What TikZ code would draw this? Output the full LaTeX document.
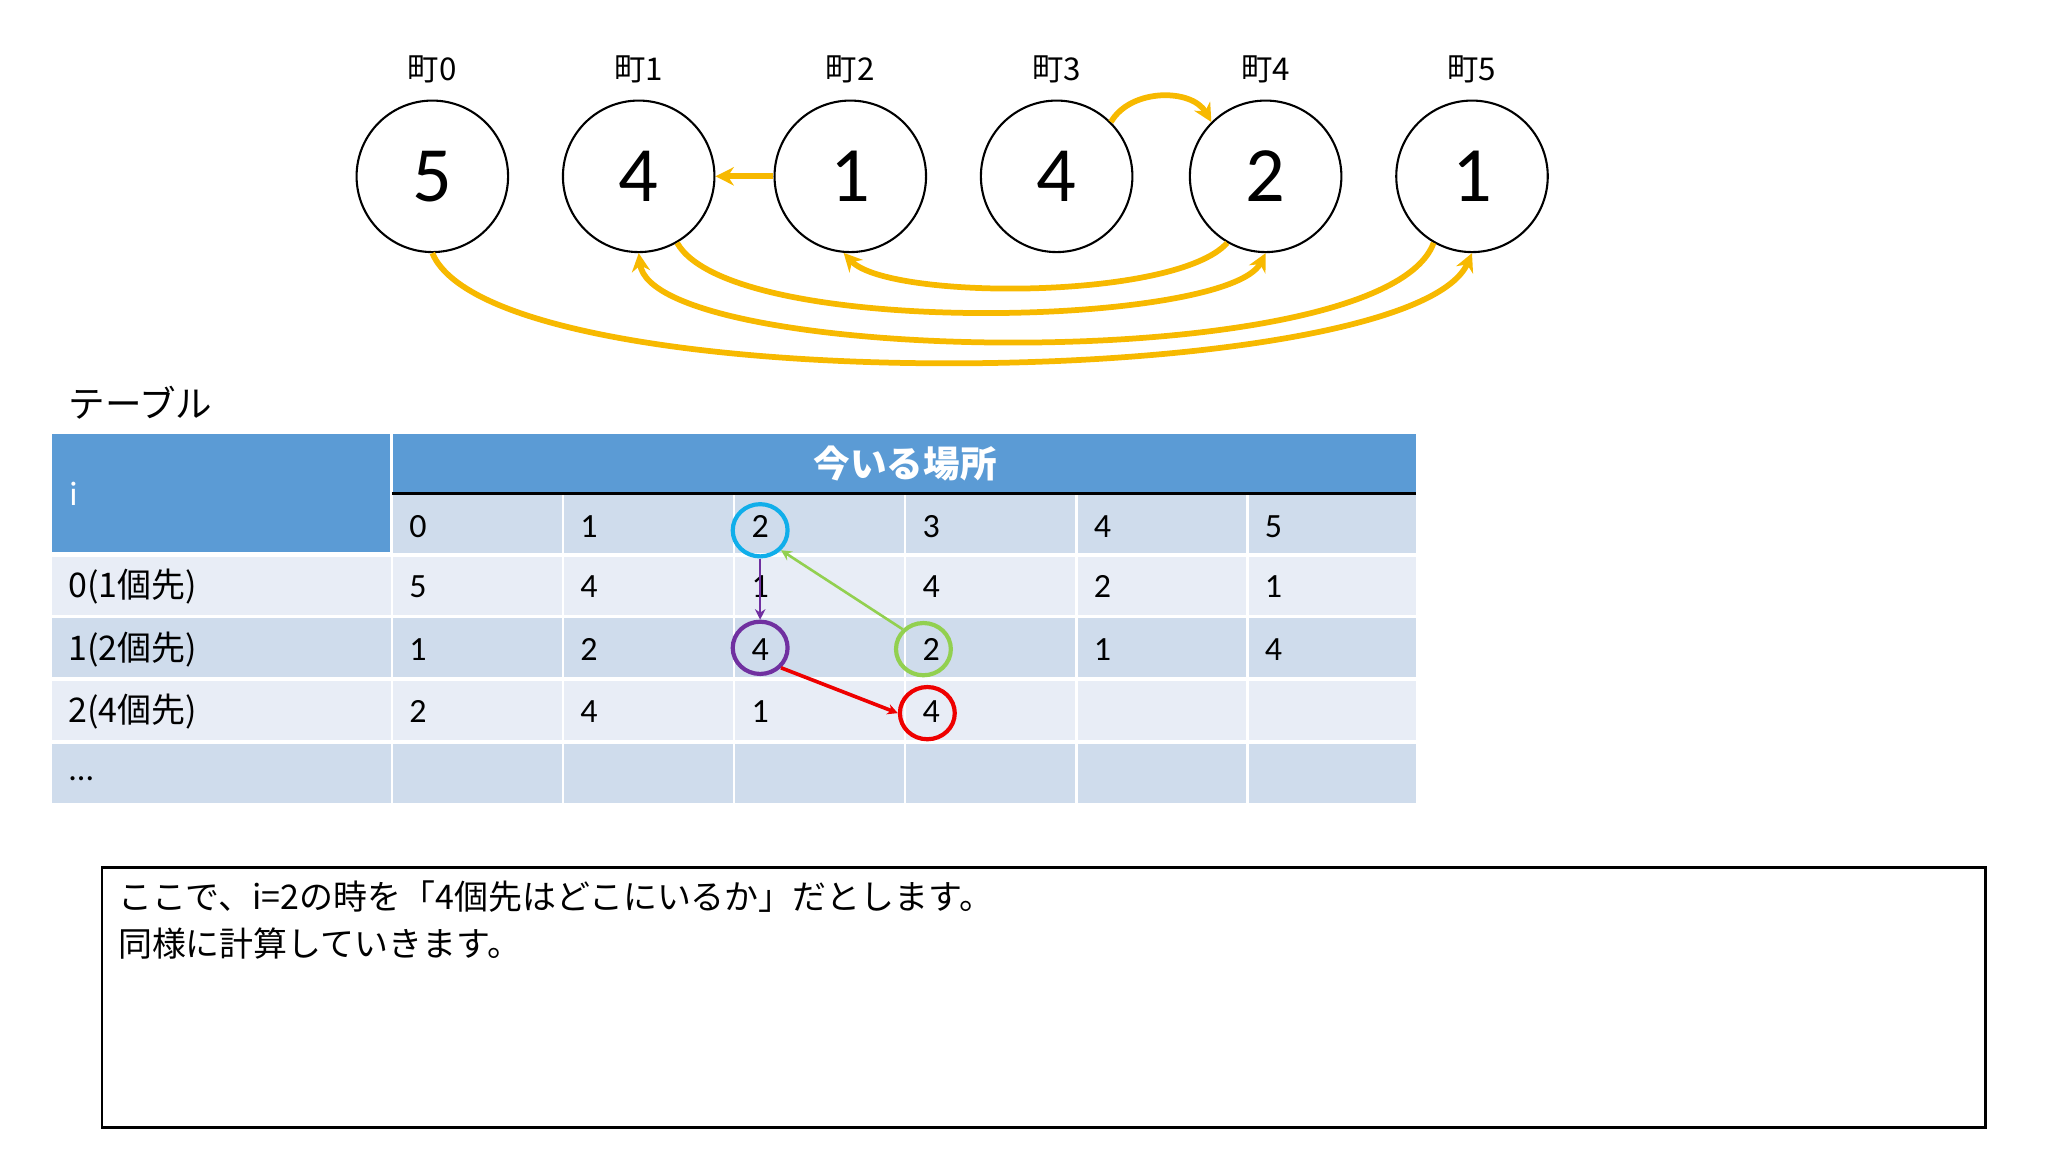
\documentclass[tikz,border=0pt]{standalone}
\usepackage{fontspec}
\setmainfont{Carlito}
\newfontfamily\jp{Noto Sans CJK JP}
\usetikzlibrary{arrows.meta,shapes.geometric}
\definecolor{gold}{HTML}{F7B900}
\definecolor{hdr}{HTML}{5B9BD5}
\definecolor{rowA}{HTML}{CFDCEC}
\definecolor{rowB}{HTML}{E8EDF6}
\definecolor{cblue}{HTML}{10AEEA}
\definecolor{cpurp}{HTML}{7030A0}
\definecolor{cgreen}{HTML}{92D050}
\definecolor{cred}{HTML}{EE0000}
\tikzset{
 town/.style={circle,draw,thick,minimum size=58pt,inner sep=0pt,font=\fontsize{30}{30}\selectfont},
 tlabel/.style={font=\jp\fontsize{12}{12}\selectfont},
 garr/.style={gold,line width=2.2pt,-{Stealth[length=7pt,width=7pt]}},
 cell/.style={anchor=west,font=\fontsize{13}{13}\selectfont,inner sep=0pt},
 ringmark/.style={draw,line width=1.6pt,ellipse,minimum width=21pt,minimum height=20pt,inner sep=0pt},
 thinarr/.style={line width=1pt,-{Stealth[length=4pt,width=4pt]}},
}
\begin{document}
\begin{tikzpicture}[x=0.5pt,y=-0.5pt]
\useasboundingbox (0,0) rectangle (1568,882);
% towns
\foreach \n/\x/\v in {0/331/5,1/489/4,2/651/1,3/809/4,4/969/2,5/1127/1}{
 \node[town] (t\n) at (\x,135) {\v};
 \node[tlabel] (l\n) at (\x,53) {町\n};
}
\draw[garr] (t2.west) -- (t1.east);
\draw[garr] (t3.45) to[out=60,in=120] (t4.135);
\draw[garr] (t4.-120) .. controls (900,230) and (680,230) .. (t2.-95);
\draw[garr] (t1.-60) .. controls (560,260) and (940,250) .. (t4.-90);
\draw[garr] (t5.-120) .. controls (1060,290) and (500,280) .. (t1.-90);
\draw[garr] (t0.-90) .. controls (380,310) and (1080,300) .. (t5.-90);
% table
\node[font=\jp\fontsize{14}{14}\selectfont,anchor=west,inner sep=0pt] (tt) at (52,308) {テーブル};
\fill[hdr] (40,332) rectangle (1084,378);
\fill[hdr] (40,378) rectangle (300,423);
\fill[rowA] (300,378) rectangle (1084,425);
\fill[rowB] (40,425) rectangle (1084,472);
\fill[rowA] (40,472) rectangle (1084,520);
\fill[rowB] (40,520) rectangle (1084,568);
\fill[rowA] (40,568) rectangle (1084,615);
\foreach \x in {300,431,562,693,824,955}{\draw[white,line width=1pt] (\x,378) -- (\x,615);}
\draw[white,line width=1.2pt] (300,332) -- (300,423);
\foreach \y in {425,472,520,568}{\draw[white,line width=1.5pt] (40,\y) -- (1084,\y);}
\draw[black,line width=1.2pt] (300,378) -- (1084,378);
\node[font=\jp\bfseries\fontsize{14}{14}\selectfont,text=white] (hd) at (693,355) {今いる場所};
\node[cell,text=white] (ii) at (53,378) {i};
\node[cell,font=\jp\fontsize{13}{13}\selectfont] (r0) at (52,449) {0(1個先)};
\node[cell,font=\jp\fontsize{13}{13}\selectfont] (r1) at (52,497) {1(2個先)};
\node[cell,font=\jp\fontsize{13}{13}\selectfont] (r2) at (52,545) {2(4個先)};
\node[cell] (r3) at (52,596) {...};
\foreach \v [count=\c from 0] in {0,1,2,3,4,5}{\node[cell] (h\c) at (313+131*\c,403) {\v};}
\foreach \v [count=\c from 0] in {5,4,1,4,2,1}{\node[cell] (a\c) at (313+131*\c,449) {\v};}
\foreach \v [count=\c from 0] in {1,2,4,2,1,4}{\node[cell] (b\c) at (313+131*\c,497) {\v};}
\foreach \v [count=\c from 0] in {2,4,1,4}{\node[cell] (d\c) at (313+131*\c,545) {\v};}
\node[ringmark,cblue] (mb) at (582,406) {};
\node[ringmark,cpurp] (mp) at (582,496) {};
\node[ringmark,cgreen] (mg) at (707,497) {};
\node[ringmark,cred] (mr) at (710,546) {};
\draw[thinarr,cpurp] (mb.south) -- (mp.north);
\draw[thinarr,cgreen] (mg.north west) -- (mb.south east);
\draw[thinarr,cred,line width=1.4pt] (mp.south east) -- (mr.west);
% text box
\draw[line width=1pt] (78,664) rectangle (1520,863);
\node[anchor=north west,align=left,font=\jp\fontsize{13}{18}\selectfont,inner sep=0pt] (txt) at (90,674)
 {ここで、i=2の時を「4個先はどこにいるか」だとします。\\同様に計算していきます。};
\end{tikzpicture}
\end{document}
